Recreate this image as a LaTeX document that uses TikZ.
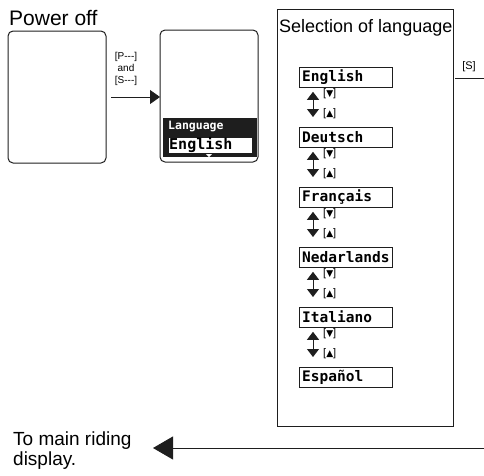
\documentclass[tikz,border=0pt]{standalone}
\usepackage{fontspec}
\setmainfont{Liberation Sans}
\newfontfamily\lcd{DejaVu Sans Mono}
\newfontfamily\sym{DejaVu Sans}
\usetikzlibrary{arrows.meta}
\definecolor{ink}{HTML}{1E1E1E}
\begin{document}
\begin{tikzpicture}[x=1pt,y=-1pt,
  screen/.style={draw=ink, line width=1pt, rounded corners=5pt},
  langbox/.style={draw=ink, line width=0.8pt, minimum width=93pt, minimum height=20pt, inner sep=0pt, anchor=north west},
  langtext/.style={font=\lcd\bfseries\fontsize{14.5}{14.5}\selectfont, anchor=west, inner sep=0pt},
  keylbl/.style={font=\fontsize{11}{11}\selectfont, inner sep=0pt, anchor=west},
  small/.style={font=\fontsize{10}{12}\selectfont, inner sep=0pt},
  big/.style={font=\fontsize{21}{21}\selectfont, inner sep=0pt, anchor=base west},
  dbl/.style={{Triangle[width=12pt,length=8pt]}-{Triangle[width=12pt,length=8pt]}, line width=1pt, ink},
  conn/.style={-{Triangle[width=14pt,length=10pt]}, line width=0.8pt, ink}
]
\useasboundingbox (0,0) rectangle (484,475);
% Power off
\node[big] (poff) at (9,25) {Power off};
\draw[screen] (8,31) rectangle (106,163);
\coordinate (b1e) at (106,97);
% Screen 2
\draw[screen] (160,30) rectangle (258,162);
\coordinate (b2w) at (160,97);
\fill[ink] (163,118) rectangle (257,157);
\node[font=\lcd\bfseries\fontsize{11.5}{11.5}\selectfont, text=white, anchor=west, inner sep=0pt] (lng) at (168,126) {Language};
\node[draw=ink, fill=white, minimum width=84pt, minimum height=16pt, inner sep=0pt, anchor=north west] (engsel) at (168,137) {};
\node[font=\lcd\bfseries\fontsize{15}{15}\selectfont, anchor=west, inner sep=0pt] (engtxt) at (169,145) {English};
\fill[white] (206,154) -- (212,154) -- (209,157) -- cycle;
% arrow 1 -> 2
\draw[conn, shorten <=5pt] (b1e) -- (b2w);
\node[small, align=center] (pands) at (126,69) {{[P-{}-{}-]}\\{}and\\{}{[S-{}-{}-]}};
% Selection box
\draw[ink, line width=1pt] (277,9) rectangle (453,426);
\node[font=\fontsize{18}{18}\selectfont, inner sep=0pt, anchor=base west] (sel) at (279,32) {Selection of language};
\foreach \n/\t [count=\i from 0] in {l0/English,l1/Deutsch,l2/Français,l3/Nedarlands,l4/Italiano,l5/Español}{
  \node[langbox] (\n) at (299,{67+60*\i}) {};
  \node[langtext] at (302,{77+60*\i}) {\t};
}
\foreach \a/\b [count=\i from 0] in {l0/l1,l1/l2,l2/l3,l3/l4,l4/l5}{
  \draw[dbl] ([xshift=14pt,yshift=-4pt]\a.south west) -- ([xshift=14pt,yshift=10pt]\b.north west);
  \node[keylbl] at (323,{94+60*\i}) {[{\sym\fontsize{9}{9}\selectfont▼}]};
  \node[keylbl] at (323,{114+60*\i}) {[{\sym\fontsize{9}{9}\selectfont▲}]};
}
% [S] exit
\node[font=\fontsize{11}{11}\selectfont, inner sep=0pt] (slbl) at (469,67) {[S]};
\coordinate (sr) at (455,78);
\coordinate (se) at (484,78);
\draw[ink, line width=0.8pt] (sr) -- (se);
% bottom
\node[font=\fontsize{19}{20}\selectfont, inner sep=0pt, anchor=base west] (tomain) at (13,445) {To main riding};
\node[font=\fontsize{19}{20}\selectfont, inner sep=0pt, anchor=base west] (disp) at (13,465) {display.};
\coordinate (be) at (484,448);
\coordinate (bt) at (153,448);
\draw[-{Triangle[width=23pt,length=20pt]}, line width=0.9pt, ink] (be) -- (bt);
\end{tikzpicture}
\end{document}
